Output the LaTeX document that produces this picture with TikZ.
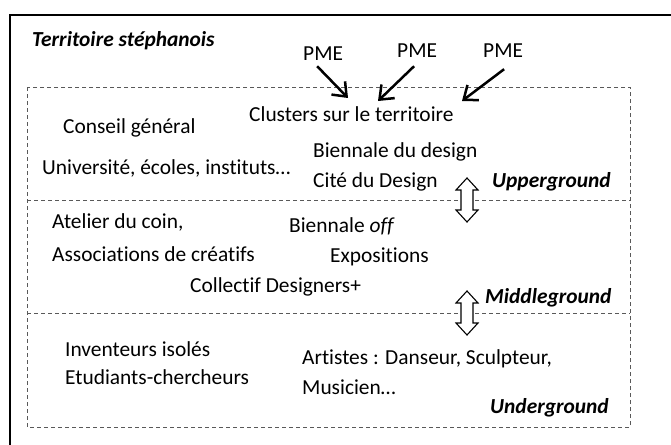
\documentclass[tikz,border=0pt]{standalone}
\usepackage{fontspec}
\setmainfont{Carlito}[Ligatures=NoCommon]
\usetikzlibrary{arrows.meta}

\tikzset{
  txt/.style={anchor=base west,inner sep=0pt},
  lvl/.style={txt,font=\fontsize{21.4}{25}\selectfont\bfseries\itshape},
  sep/.style={draw=black!65,line width=0.9pt,dash pattern=on 4pt off 3pt},
  pmearrow/.style={line width=2.5pt,-{Straight Barb[length=12pt,width=19pt]}},
  updown/.style={draw,fill=white,line width=1.1pt}
}

\begin{document}
\begin{tikzpicture}[x=1pt,y=-1pt,font=\fontsize{21.4}{25}\selectfont]
\useasboundingbox (0,0) rectangle (671,444);
\clip (0,0) rectangle (671,444);
\draw[line width=1.3pt] (10,15) rectangle (700,480);
% the three levels
\draw[sep] (27,87) rectangle (630,427);
\draw[sep] (27,200) -- (630,200);
\draw[sep] (27,313) -- (630,313);
\node[lvl] (terr) at (32,46) {Territoire stéphanois};
% upperground
\node[txt] (pme1) at (303,60) {PME};
\node[txt] (pme2) at (397,57) {PME};
\node[txt] (pme3) at (483,57) {PME};
\node[txt] (clus) at (249,121) {Clusters sur le territoire};
\node[txt] (cons) at (63,133) {Conseil général};
\node[txt] (univ) at (42,174) {Université, écoles, instituts…};
\node[txt] (bien) at (313,157) {Biennale du design};
\node[txt] (cite) at (313,187) {Cité du Design};
\node[lvl] (upper) at (492,187) {Upperground};
\coordinate (t1) at (348,98);
\coordinate (t2) at (378,101);
\coordinate (t3) at (462,101);
\draw[pmearrow] ([shift={(-6,6)}]pme1.south) -- (t1);
\draw[pmearrow] ([shift={(-3,9)}]pme2.south) -- (t2);
\draw[pmearrow] ([shift={(1,12)}]pme3.south) -- (t3);
% middleground
\node[txt] (atel) at (52,228) {Atelier du coin,};
\node[txt] (asso) at (52,261) {Associations de créatifs};
\node[txt] (boff) at (289,232) {Biennale \textit{off}};
\node[txt] (expo) at (330,262) {Expositions};
\node[txt] (coll) at (190,292) {Collectif Designers+};
\node[lvl] (middle) at (485,303) {Middleground};
% underground
\node[txt] (inve) at (65,356) {Inventeurs isolés};
\node[txt] (etud) at (65,384) {Etudiants-chercheurs};
\node[txt] (arti) at (302,364) {Artistes : Danseur, Sculpteur,};
\node[txt] (musi) at (302,394) {Musicien…};
\node[lvl] (under) at (490,413) {Underground};
% passages between levels
\foreach \yc in {200,313}{
  \begin{scope}[shift={(467,\yc)}]
    \draw[updown] (0,-22) -- (11,-10) -- (6,-10) -- (6,10) -- (11,10) -- (0,22)
      -- (-11,10) -- (-6,10) -- (-6,-10) -- (-11,-10) -- cycle;
  \end{scope}
}
\end{tikzpicture}
\end{document}
